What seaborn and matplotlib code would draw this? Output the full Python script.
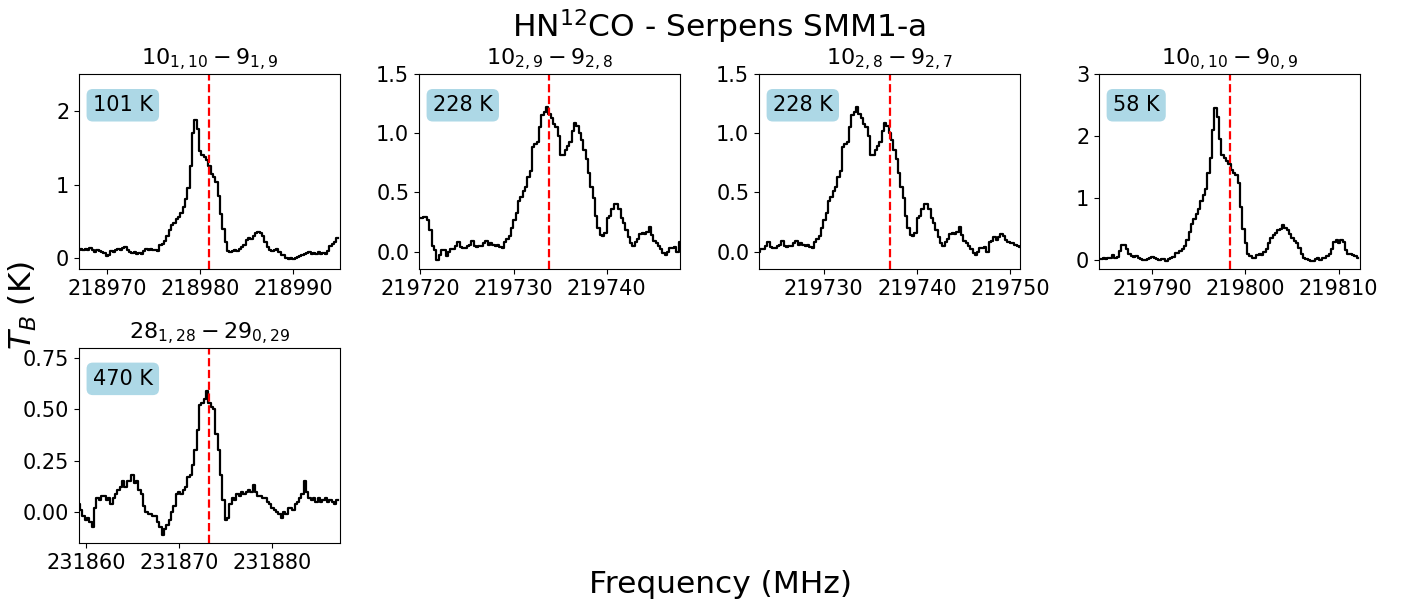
import numpy as np
import pandas as pd
import seaborn as sns
import matplotlib
matplotlib.use("Agg")
import matplotlib.pyplot as plt

# ---

# DATA (0.25 MHz channels)

chan_width = 0.25

titles = [r"$10_{1,10} - 9_{1,9}$", r"$10_{2,9} - 9_{2,8}$", r"$10_{2,8} - 9_{2,7}$",
          r"$10_{0,10} - 9_{0,9}$", r"$28_{1,28} - 29_{0,29}$"]
line_freqs = [218981.0, 219733.85, 219737.07, 219798.3, 231873.25]
eup_labels = ["101 K", "228 K", "228 K", "58 K", "470 K"]
ytops = [2.5, 1.5, 1.5, 3.0, 0.8]

# first channel frequency of each spectral window
spw_start = [218967.0, 219719.85, 219784.3, 231859.25]

spec_218981 = [
    0.12, 0.13, 0.12, 0.13, 0.11, 0.14, 0.12, 0.09, 0.11, 0.10,
    0.08, 0.07, 0.03, 0.05, 0.10, 0.08, 0.11, 0.13, 0.12, 0.14,
    0.15, 0.12, 0.08, 0.07, 0.09, 0.06, 0.07, 0.06, 0.10, 0.13,
    0.12, 0.13, 0.11, 0.12, 0.10, 0.18, 0.20, 0.23, 0.30, 0.38,
    0.45, 0.48, 0.53, 0.56, 0.62, 0.70, 0.80, 0.95, 1.25, 1.70,
    1.88, 1.75, 1.45, 1.40, 1.37, 1.33, 1.25, 1.15, 1.10, 1.03,
    0.85, 0.60, 0.40, 0.22, 0.10, 0.09, 0.10, 0.11, 0.10, 0.13,
    0.15, 0.18, 0.25, 0.27, 0.26, 0.30, 0.34, 0.36, 0.34, 0.30,
    0.22, 0.15, 0.12, 0.10, 0.12, 0.13, 0.08, 0.05, 0.04, 0.01,
    -0.01, 0.00, -0.01, 0.01, 0.02, 0.03, 0.04, 0.06, 0.07, 0.08,
    0.06, 0.07, 0.06, 0.08, 0.06, 0.07, 0.06, 0.10, 0.17, 0.20,
    0.22, 0.28,
]

spec_219735 = [
    0.28, 0.28, 0.29, 0.29, 0.27, 0.18, 0.05, 0.01, -0.07, -0.03,
    0.01, 0.01, -0.04, 0.00, 0.02, 0.02, 0.05, 0.08, 0.04, 0.03,
    0.03, 0.05, 0.06, 0.09, 0.05, 0.04, 0.05, 0.05, 0.07, 0.09,
    0.06, 0.07, 0.06, 0.05, 0.06, 0.04, 0.03, 0.08, 0.11, 0.13,
    0.20, 0.27, 0.33, 0.43, 0.46, 0.51, 0.55, 0.63, 0.68, 0.88,
    0.91, 0.93, 1.05, 1.15, 1.18, 1.22, 1.16, 1.13, 1.08, 1.05,
    0.98, 0.82, 0.82, 0.86, 0.89, 0.93, 1.02, 1.09, 1.06, 1.00,
    0.94, 0.86, 0.78, 0.66, 0.55, 0.45, 0.30, 0.20, 0.14, 0.13,
    0.16, 0.28, 0.30, 0.36, 0.40, 0.40, 0.36, 0.28, 0.24, 0.18,
    0.12, 0.07, 0.05, 0.08, 0.11, 0.15, 0.16, 0.15, 0.17, 0.21,
    0.14, 0.09, 0.07, 0.05, 0.02, -0.01, -0.03, 0.00, 0.03, 0.03,
    0.04, 0.00, 0.08, 0.09, 0.12, 0.10, 0.12, 0.15, 0.13, 0.10,
    0.08, 0.07, 0.07, 0.06, 0.05, 0.04,
]

spec_219798 = [
    0.02, 0.02, 0.03, 0.02, 0.03, 0.04, 0.08, 0.04, 0.05, 0.15,
    0.25, 0.25, 0.18, 0.10, 0.07, 0.05, 0.06, 0.04, 0.02, 0.00,
    0.00, 0.01, 0.04, 0.05, 0.04, 0.02, 0.00, 0.02, 0.01, -0.02,
    0.01, 0.03, 0.05, 0.11, 0.12, 0.14, 0.18, 0.22, 0.32, 0.45,
    0.58, 0.66, 0.75, 0.82, 0.95, 1.05, 1.15, 1.40, 1.65, 2.10,
    2.45, 2.30, 1.95, 1.70, 1.65, 1.60, 1.55, 1.45, 1.40, 1.37,
    1.25, 0.85, 0.50, 0.28, 0.10, 0.06, 0.03, 0.04, 0.08, 0.10,
    0.09, 0.13, 0.18, 0.28, 0.35, 0.40, 0.43, 0.48, 0.50, 0.56,
    0.52, 0.48, 0.42, 0.36, 0.31, 0.28, 0.20, 0.10, 0.04, 0.02,
    0.00, -0.02, -0.02, 0.02, 0.03, 0.00, 0.03, 0.04, 0.06, 0.10,
    0.18, 0.30, 0.33, 0.28, 0.33, 0.30, 0.17, 0.10, 0.10, 0.08,
    0.06, 0.04,
]

spec_231873 = [
    0.04, 0.01, -0.02, -0.04, -0.03, -0.05, -0.07, 0.02, 0.07, 0.06,
    0.08, 0.08, 0.06, 0.07, 0.04, 0.07, 0.09, 0.11, 0.12, 0.15,
    0.12, 0.15, 0.15, 0.18, 0.14, 0.15, 0.11, 0.09, 0.03, 0.00,
    -0.01, -0.01, -0.02, -0.02, -0.05, -0.07, -0.11, -0.08, -0.06, -0.04,
    0.00, 0.03, 0.09, 0.10, 0.09, 0.11, 0.12, 0.17, 0.18, 0.23,
    0.30, 0.40, 0.52, 0.53, 0.55, 0.59, 0.53, 0.51, 0.50, 0.38,
    0.30, 0.18, 0.06, -0.04, -0.03, 0.04, 0.07, 0.06, 0.09, 0.08,
    0.10, 0.09, 0.10, 0.11, 0.10, 0.13, 0.10, 0.08, 0.08, 0.07,
    0.07, 0.05, 0.04, 0.02, 0.01, 0.00, -0.01, -0.03, 0.00, -0.01,
    0.02, 0.02, 0.01, 0.04, 0.05, 0.07, 0.09, 0.15, 0.10, 0.07,
    0.06, 0.07, 0.05, 0.07, 0.05, 0.06, 0.07, 0.05, 0.06, 0.05,
    0.04, 0.06,
]

spectra = [spec_218981, spec_219735, spec_219798, spec_231873]
# which spectral window each transition is drawn from
panel_spw = [0, 1, 1, 2, 3]

# ---

# BUILD A LONG TABLE

frames = []
for k, (f0, spec) in enumerate(zip(spw_start, spectra)):
    freq = f0 + chan_width * np.arange(len(spec))
    frames.append(pd.DataFrame({"spw": k, "freq": freq, "tb": spec}))
df = pd.concat(frames, ignore_index=True)

# ---

# PLOT

fig, axes = plt.subplots(2, 4, figsize=(14.13, 6.10), dpi=100)
fig.subplots_adjust(left=0.0559, right=0.9625, top=0.8787, bottom=0.1098,
                    wspace=0.303, hspace=0.40)

for i, ax in enumerate(axes.flat):
    if i >= len(titles):
        fig.delaxes(ax)
        continue
    sub = df[df["spw"] == panel_spw[i]]
    sns.lineplot(data=sub, x="freq", y="tb", ax=ax, color="black",
                 linewidth=1.6, drawstyle="steps-mid", estimator=None)
    ax.axvline(line_freqs[i], color="red", linestyle="--", linewidth=1.6)
    ax.set_xlim(line_freqs[i] - 14, line_freqs[i] + 14)
    ax.set_ylim(-0.15, ytops[i])
    ax.ticklabel_format(axis="x", useOffset=False, style="plain")
    ax.tick_params(labelsize=15)
    ax.set_title(titles[i], fontsize=16)
    ax.set_xlabel("")
    ax.set_ylabel("")
    ax.text(0.053, 0.84, eup_labels[i], transform=ax.transAxes, fontsize=15,
            va="center", ha="left",
            bbox=dict(boxstyle="round,pad=0.3", facecolor="lightblue",
                      edgecolor="none"))

fig.suptitle(r"HN$^{12}$CO - Serpens SMM1-a", fontsize=22.5, x=0.509, y=0.988)
fig.supxlabel("Frequency (MHz)", fontsize=22.5, x=0.5096, y=0.018)
fig.supylabel(r"$T_B$ (K)", fontsize=22.5, x=0.005)

plt.savefig("out.png", dpi=100)
